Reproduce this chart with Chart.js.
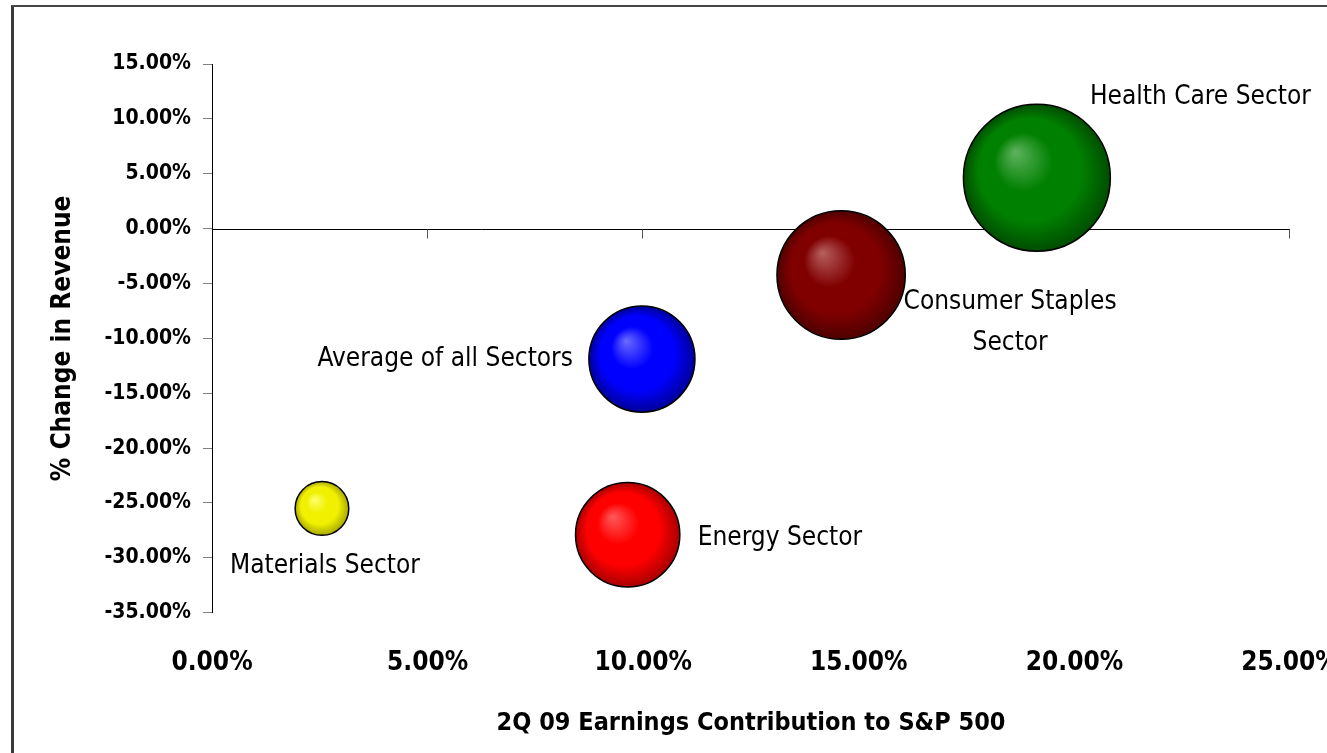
<!DOCTYPE html>
<html>
<head>
<meta charset="utf-8">
<script src="https://cdn.jsdelivr.net/npm/chart.js@4.4.1/dist/chart.umd.min.js"></script>
<style>
  html, body { margin: 0; padding: 0; background: #fff; }
  #wrap { width: 1327px; height: 753px; }
</style>
</head>
<body>
<div id="wrap"><canvas id="myChart"></canvas></div>
<script>
// data (percent)
const sectors = ['Health Care Sector', 'Consumer Staples Sector', 'Average of all Sectors', 'Energy Sector', 'Materials Sector'];
const earningsContribution = [19.13, 14.59, 9.97, 9.64, 2.55];
const revenueChange = [4.64, -4.23, -11.89, -27.9, -25.5];
const bubbleSize = [19.13, 14.59, 9.97, 9.64, 2.55];
const xTicks = [0, 5, 10, 15, 20, 25];
const yTicks = [15, 10, 5, 0, -5, -10, -15, -20, -25, -30, -35];

// colours: [highlight, base, edge]
const shades = [
  ['#5fb35f', '#008000', '#004d00'],
  ['#b76060', '#800000', '#4f0000'],
  ['#6b6bff', '#0000ff', '#00009a'],
  ['#ff5a5a', '#ff0000', '#a80000'],
  ['#ffff70', '#f0f000', '#a8a800']
];

// where each text label sits relative to its bubble
const labelPlace = [
  { dx: 53, dy: -80, align: 'left' },
  { dx: 169, dy: 27, align: 'center', lines: ['Consumer Staples', 'Sector'] },
  { dx: -69, dy: 0, align: 'right' },
  { dx: 70, dy: 3, align: 'left' },
  { dx: 3, dy: 58, align: 'center' }
];

const FONT = "'Liberation Sans Narrow', 'Arial Narrow', 'DejaVu Sans Condensed', sans-serif";
const RADIUS_SCALE = 16.8;

const points = sectors.map((s, i) => ({
  x: earningsContribution[i],
  y: revenueChange[i],
  r: RADIUS_SCALE * Math.sqrt(bubbleSize[i])
}));

function sphereFill(c) {
  const s = shades[c.dataIndex] || shades[0];
  if (c.type !== 'data' || !c.raw) return s[1];
  const chart = c.chart;
  const p = c.raw;
  const x = chart.scales.x.getPixelForValue(p.x);
  const y = chart.scales.y.getPixelForValue(p.y);
  if (!isFinite(x) || !isFinite(y)) return s[1];
  const g = chart.ctx.createRadialGradient(x - p.r * 0.3, y - p.r * 0.35, 0, x, y, p.r);
  g.addColorStop(0, s[0]);
  g.addColorStop(0.4, s[1]);
  g.addColorStop(0.7, s[1]);
  g.addColorStop(1, s[2]);
  return g;
}

// white page and the frame round it
const framePlugin = {
  id: 'frame',
  beforeDraw(chart) {
    const ctx = chart.ctx;
    ctx.save();
    ctx.fillStyle = '#fff';
    ctx.fillRect(0, 0, chart.width, chart.height);
    ctx.strokeStyle = '#3a3a3a';
    ctx.lineWidth = 3;
    ctx.beginPath();
    ctx.moveTo(12.5, 6);
    ctx.lineTo(12.5, chart.height);
    ctx.stroke();
    ctx.lineWidth = 2;
    ctx.strokeStyle = '#444';
    ctx.beginPath();
    ctx.moveTo(11, 6);
    ctx.lineTo(chart.width, 6);
    ctx.stroke();
    ctx.restore();
  }
};

// horizontal axis line crossing at 0%
const zeroLinePlugin = {
  id: 'zeroLine',
  beforeDatasetsDraw(chart) {
    const { ctx, chartArea, scales } = chart;
    const y0 = Math.round(scales.y.getPixelForValue(0)) + 0.5;
    ctx.save();
    ctx.strokeStyle = '#000';
    ctx.lineWidth = 1;
    ctx.beginPath();
    ctx.moveTo(chartArea.left, y0);
    ctx.lineTo(chartArea.right, y0);
    ctx.stroke();
    ctx.strokeStyle = '#555';
    xTicks.slice(1).forEach(v => {
      const x = Math.round(scales.x.getPixelForValue(v)) - 0.5;
      ctx.beginPath();
      ctx.moveTo(x, y0);
      ctx.lineTo(x, y0 + 9);
      ctx.stroke();
    });
    ctx.restore();
  }
};

const labelPlugin = {
  id: 'bubbleLabels',
  afterDatasetsDraw(chart) {
    const { ctx, scales } = chart;
    ctx.save();
    ctx.fillStyle = '#000';
    ctx.font = '26px ' + FONT;
    ctx.textBaseline = 'middle';
    points.forEach((p, i) => {
      const place = labelPlace[i];
      const x = scales.x.getPixelForValue(p.x) + place.dx;
      const y = scales.y.getPixelForValue(p.y) + place.dy;
      ctx.textAlign = place.align;
      const lines = place.lines || [sectors[i]];
      lines.forEach((t, k) => ctx.fillText(t, x, y + k * 41));
    });
    ctx.restore();
  }
};

const ctx = document.getElementById('myChart').getContext('2d');
const myChart = new Chart(ctx, {
  type: 'bubble',
  data: {
    datasets: [{
      label: 'Sectors',
      data: points,
      backgroundColor: sphereFill,
      borderColor: '#000',
      borderWidth: 1.5
    }]
  },
  options: {
    responsive: true,
    maintainAspectRatio: false,
    animation: false,
    events: [],
    layout: { autoPadding: false, padding: { top: 64, right: 37, bottom: 0, left: 0 } },
    plugins: {
      legend: { display: false },
      tooltip: { enabled: false }
    },
    scales: {
      x: {
        type: 'linear',
        min: 0,
        max: 25,
        afterBuildTicks: s => { s.ticks = xTicks.map(v => ({ value: v })); },
        grid: { display: false, drawTicks: false },
        border: { display: false },
        ticks: {
          padding: 35,
          color: '#000',
          font: { family: FONT, size: 26, weight: 'bold' },
          callback: v => v.toFixed(2) + '%'
        },
        title: {
          display: true,
          text: '2Q 09 Earnings Contribution to S&P 500',
          color: '#000',
          font: { family: FONT, size: 25, weight: 'bold' },
          padding: { top: 0, bottom: 15 }
        },
        afterFit: s => { s.height = 140.3; s.paddingLeft = 0; s.paddingRight = 0; }
      },
      y: {
        type: 'linear',
        min: -35,
        max: 15,
        afterBuildTicks: s => { s.ticks = yTicks.slice().reverse().map(v => ({ value: v })); },
        grid: { drawOnChartArea: false, tickLength: 9, color: '#808080' },
        border: { color: '#000', width: 1 },
        ticks: {
          padding: 12,
          color: '#000',
          font: { family: FONT, size: 21, weight: 'bold' },
          callback: v => v.toFixed(2) + '%'
        },
        title: {
          display: true,
          text: '% Change in Revenue',
          color: '#000',
          font: { family: FONT, size: 26, weight: 'bold' },
          padding: { top: 48, bottom: 0 }
        },
        afterFit: s => { s.width = 212; s.paddingTop = 0; s.paddingBottom = 0; }
      }
    }
  },
  plugins: [framePlugin, zeroLinePlugin, labelPlugin]
});
</script>
</body>
</html>
